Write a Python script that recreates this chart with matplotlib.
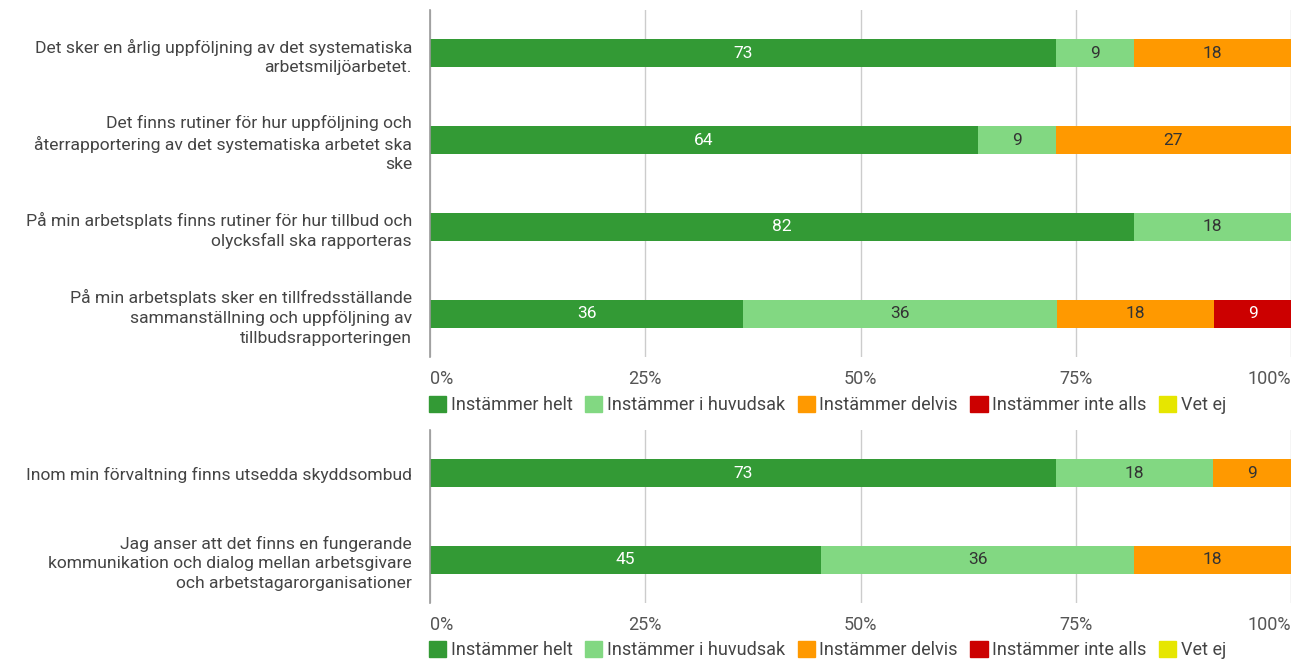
import matplotlib.pyplot as plt
from matplotlib.patches import Patch

plt.rcParams['font.family'] = ['Roboto', 'DejaVu Sans']

# Categories and shares (percent)
top_questions = [
    "Det sker en årlig uppföljning av det systematiska\narbetsmiljöarbetet.",
    "Det finns rutiner för hur uppföljning och\nåterrapportering av det systematiska arbetet ska\nske",
    "På min arbetsplats finns rutiner för hur tillbud och\nolycksfall ska rapporteras",
    "På min arbetsplats sker en tillfredsställande\nsammanställning och uppföljning av\ntillbudsrapporteringen",
]
bottom_questions = [
    "Inom min förvaltning finns utsedda skyddsombud",
    "Jag anser att det finns en fungerande\nkommunikation och dialog mellan arbetsgivare\noch arbetstagarorganisationer",
]
series = ["Instämmer helt", "Instämmer i huvudsak", "Instämmer delvis",
          "Instämmer inte alls", "Vet ej"]
colors = ["#339a35", "#82d882", "#ff9900", "#cc0000", "#e6e600"]
text_colors = ["white", "#333333", "#333333", "white", "#333333"]

top_values = [
    [72.7, 9.1, 18.2, 0, 0],
    [63.6, 9.1, 27.3, 0, 0],
    [81.8, 18.2, 0, 0, 0],
    [36.4, 36.4, 18.2, 9.1, 0],
]
bottom_values = [
    [72.7, 18.2, 9.1, 0, 0],
    [45.4, 36.4, 18.2, 0, 0],
]
xticks = [0, 25, 50, 75, 100]
xtick_labels = ["0%", "25%", "50%", "75%", "100%"]


def draw_panel(ax, questions, values):
    n = len(questions)
    ys = list(range(n))
    lefts = [0] * n
    for j, name in enumerate(series):
        widths = [row[j] for row in values]
        bars = ax.barh(ys, widths, left=lefts, height=0.32, color=colors[j],
                       zorder=3, label=name)
        for b, w in zip(bars, widths):
            if w > 0:
                ax.text(b.get_x() + w / 2, b.get_y() + b.get_height() / 2,
                        f"{round(w):d}", ha='center', va='center',
                        color=text_colors[j], fontsize=12.5, zorder=4)
        lefts = [l + w for l, w in zip(lefts, widths)]
    ax.set_ylim(n - 0.5, -0.5)
    ax.set_xlim(0, 100)
    ax.set_yticks(ys)
    ax.set_yticklabels(questions, fontsize=12.6, color='#444444', ha='right',
                       linespacing=1.35)
    ax.set_xticks(xticks)
    ax.set_xticklabels(xtick_labels, fontsize=13, color='#555555')
    ax.tick_params(axis='both', length=0)
    ax.tick_params(axis='y', pad=13)
    ax.tick_params(axis='x', pad=9)
    for lab, pos in zip(ax.get_xticklabels(), xticks):
        if pos == 0:
            lab.set_ha('left')
        elif pos == 100:
            lab.set_ha('right')
    ax.grid(axis='x', color='#cccccc', linewidth=1, zorder=0)
    for s in ['top', 'right', 'bottom']:
        ax.spines[s].set_visible(False)
    ax.spines['left'].set_color('#999999')
    ax.spines['left'].set_linewidth(1.2)
    ax.spines['left'].set_zorder(5)
    handles = [Patch(facecolor=c, edgecolor=c, label=s) for s, c in zip(series, colors)]
    return handles


fig = plt.figure(figsize=(13.1, 6.68), dpi=100)
ax1 = fig.add_axes([430 / 1310, 1 - 357 / 668, 861 / 1310, 347 / 668])
ax2 = fig.add_axes([430 / 1310, 1 - 603 / 668, 861 / 1310, 173 / 668])

h = draw_panel(ax1, top_questions, top_values)
draw_panel(ax2, bottom_questions, bottom_values)

for ax, ytop in [(ax1, 396), (ax2, 641)]:
    fig.legend(handles=h, loc='upper left',
               bbox_to_anchor=(429 / 1310, 1 - ytop / 668),
               ncol=5, frameon=False, fontsize=13.0, handlelength=0.95,
               handleheight=1.0, handletextpad=0.25, columnspacing=0.7,
               borderaxespad=0, borderpad=0, labelcolor='#444444')

fig.savefig("out.png", dpi=100)
